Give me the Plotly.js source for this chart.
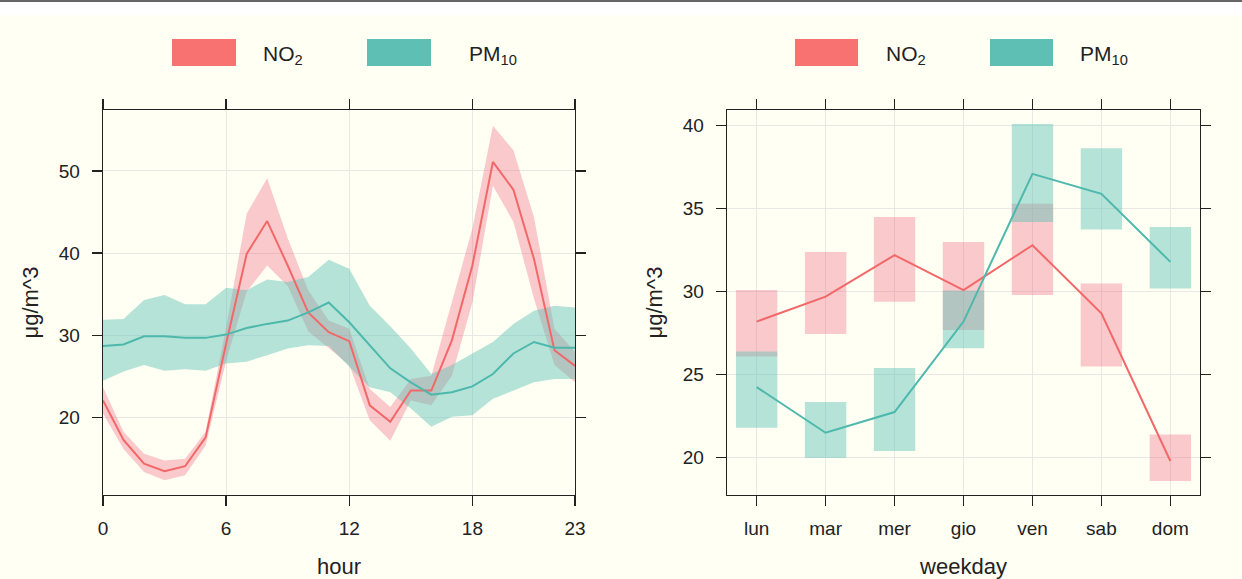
<!DOCTYPE html>
<html>
<head>
<meta charset="utf-8">
<script src="https://cdn.plot.ly/plotly-3.0.1.min.js"></script>
<style>
  body { margin: 0; background: #ffffff; }
  #chart { width: 1242px; height: 579px; }
</style>
</head>
<body>
<div id="chart"></div>
<script>
// hour of day profile
var hours = [0,1,2,3,4,5,6,7,8,9,10,11,12,13,14,15,16,17,18,19,20,21,22,23];
var no2Hour = [22.1,17.3,14.4,13.5,14.1,17.6,29.0,39.9,43.9,38.5,32.8,30.4,29.3,21.5,19.5,23.3,23.3,29.4,38.5,51.1,47.7,39.3,28.2,26.3];
var no2HourHi = [23.7,18.3,15.6,14.8,15.0,18.3,31.0,44.8,49.1,41.8,35.5,31.8,30.8,23.5,21.3,24.7,25.1,34.0,43.0,55.5,52.5,44.4,30.8,28.0];
var no2HourLo = [20.5,16.2,13.4,12.4,13.0,16.6,26.9,35.3,38.5,36.0,30.5,28.4,26.4,19.7,17.2,22.1,21.5,25.1,34.0,48.2,43.8,34.5,26.4,24.3];
var pmHour = [28.7,28.9,29.9,29.9,29.7,29.7,30.1,30.9,31.4,31.8,32.8,34.0,31.6,28.8,26.0,24.3,22.8,23.1,23.8,25.3,27.8,29.2,28.5,28.5];
var pmHourHi = [31.9,32.0,34.3,34.9,33.8,33.8,35.8,35.5,36.8,36.5,37.1,39.2,38.1,33.6,31.1,28.4,25.3,26.4,27.8,29.2,31.4,33.0,33.6,33.4];
var pmHourLo = [24.5,25.6,26.4,25.7,25.9,25.7,26.6,26.8,27.6,28.4,28.8,28.7,26.2,23.7,23.1,21.1,18.9,20.1,20.3,22.3,23.3,24.3,24.7,24.7];

// day of week profile
var days = ["lun","mar","mer","gio","ven","sab","dom"];
var no2Day = [28.2,29.7,32.2,30.1,32.8,28.7,19.8];
var no2DayHi = [30.1,32.4,34.5,33.0,35.3,30.5,21.4];
var no2DayLo = [26.1,27.45,29.4,27.7,29.8,25.5,18.6];
var pmDay = [24.25,21.5,22.75,28.2,37.1,35.9,31.8];
var pmDayHi = [26.4,23.35,25.4,30.07,40.1,38.65,33.9];
var pmDayLo = [21.8,19.98,20.4,26.6,34.2,33.75,30.2];

var red = "#F87272", teal = "#5EC0B4";
var redFill = "rgba(241,100,130,0.35)", tealFill = "rgba(94,192,180,0.45)";
var redLine = "#F26868", tealLine = "#4DB8AC";
var fontFam = "Liberation Sans Narrow, Arial Narrow, Liberation Sans, sans-serif";

function band(x, hi, lo, color) {
  return {
    x: x.concat(x.slice().reverse()),
    y: hi.concat(lo.slice().reverse()),
    type: "scatter", mode: "lines", fill: "toself",
    fillcolor: color, line: { width: 0 },
    hoverinfo: "skip", showlegend: false
  };
}
function ciBars(hi, lo, color) {
  return {
    x: days, base: lo,
    y: hi.map(function (v, i) { return v - lo[i]; }),
    type: "bar", width: 0.6, marker: { color: color, line: { width: 0 } },
    xaxis: "x2", yaxis: "y2", showlegend: false
  };
}

var data = [
  band(hours, no2HourHi, no2HourLo, redFill),
  band(hours, pmHourHi, pmHourLo, tealFill),
  { x: hours, y: no2Hour, type: "scatter", mode: "lines", line: { color: redLine, width: 2 }, showlegend: false },
  { x: hours, y: pmHour, type: "scatter", mode: "lines", line: { color: tealLine, width: 2 }, showlegend: false },
  ciBars(no2DayHi, no2DayLo, redFill),
  ciBars(pmDayHi, pmDayLo, tealFill),
  { x: days, y: no2Day, type: "scatter", mode: "lines", line: { color: redLine, width: 2 }, xaxis: "x2", yaxis: "y2", showlegend: false },
  { x: days, y: pmDay, type: "scatter", mode: "lines", line: { color: tealLine, width: 2 }, xaxis: "x2", yaxis: "y2", showlegend: false }
];

var tickFont = { family: fontFam, size: 19, color: "#222" };
var titleFont = { family: fontFam, size: 22, color: "#222" };
var common = {
  showline: true, linecolor: "#222", linewidth: 1.3, mirror: "ticks",
  ticks: "outside", ticklen: 10, tickcolor: "#222", tickwidth: 1.3,
  showgrid: true, gridcolor: "#E8E8E4", gridwidth: 1, zeroline: false,
  tickfont: tickFont
};
function ax(extra) { return Object.assign({}, common, extra); }

var legendY0 = 1 - 39 / 579, legendY1 = 1 - 66 / 579;
function swatch(x0, x1, color) {
  return { type: "rect", xref: "paper", yref: "paper", x0: x0 / 1242, x1: x1 / 1242,
    y0: legendY1, y1: legendY0, fillcolor: color, line: { width: 0 } };
}
function label(x, text) {
  return { xref: "paper", yref: "paper", x: x / 1242, y: 1 - 55 / 579, xanchor: "left", yanchor: "middle",
    text: text, showarrow: false, font: { family: fontFam, size: 21, color: "#222" } };
}

var layout = {
  width: 1242, height: 579,
  margin: { l: 0, r: 0, t: 0, b: 0 },
  paper_bgcolor: "#FFFFF4", plot_bgcolor: "#FFFFF4",
  showlegend: false, barmode: "overlay",
  xaxis: ax({ domain: [103 / 1242, 575 / 1242], range: [0, 23], tickvals: [0, 6, 12, 18, 23],
    ticklabelstandoff: 6,
    title: { text: "hour", font: titleFont, standoff: 22 }, anchor: "y" }),
  yaxis: ax({ domain: [84 / 579, 469 / 579], range: [10.6, 57.4], tickvals: [20, 30, 40, 50],
    ticklabelstandoff: 8,
    title: { text: "μg/m^3", font: titleFont, standoff: 14 }, anchor: "x" }),
  xaxis2: ax({ domain: [727 / 1242, 1200 / 1242], type: "category", range: [-0.43, 6.43],
    ticklabelstandoff: 6,
    title: { text: "weekday", font: titleFont, standoff: 22 }, anchor: "y2" }),
  yaxis2: ax({ domain: [84 / 579, 469 / 579], range: [17.75, 40.95], tickvals: [20, 25, 30, 35, 40],
    ticklabelstandoff: 8,
    title: { text: "μg/m^3", font: titleFont, standoff: 14 }, anchor: "x2" }),
  shapes: [
    { type: "rect", xref: "paper", yref: "paper", x0: 0, x1: 1, y0: 1 - 15 / 579, y1: 1, fillcolor: "#ffffff", line: { width: 0 }, layer: "below" },
    { type: "line", xref: "paper", yref: "paper", x0: 0, x1: 1, y0: 1 - 1 / 579, y1: 1 - 1 / 579, line: { color: "#666", width: 2 } },
    swatch(172, 236, red), swatch(367, 431, teal),
    swatch(795, 858, red), swatch(990, 1053, teal)
  ],
  annotations: [
    label(261, "NO<sub>2</sub>"), label(467, "PM<sub>10</sub>"),
    label(884, "NO<sub>2</sub>"), label(1078, "PM<sub>10</sub>")
  ]
};

Plotly.newPlot("chart", data, layout, { displayModeBar: false, staticPlot: true });
</script>
</body>
</html>
